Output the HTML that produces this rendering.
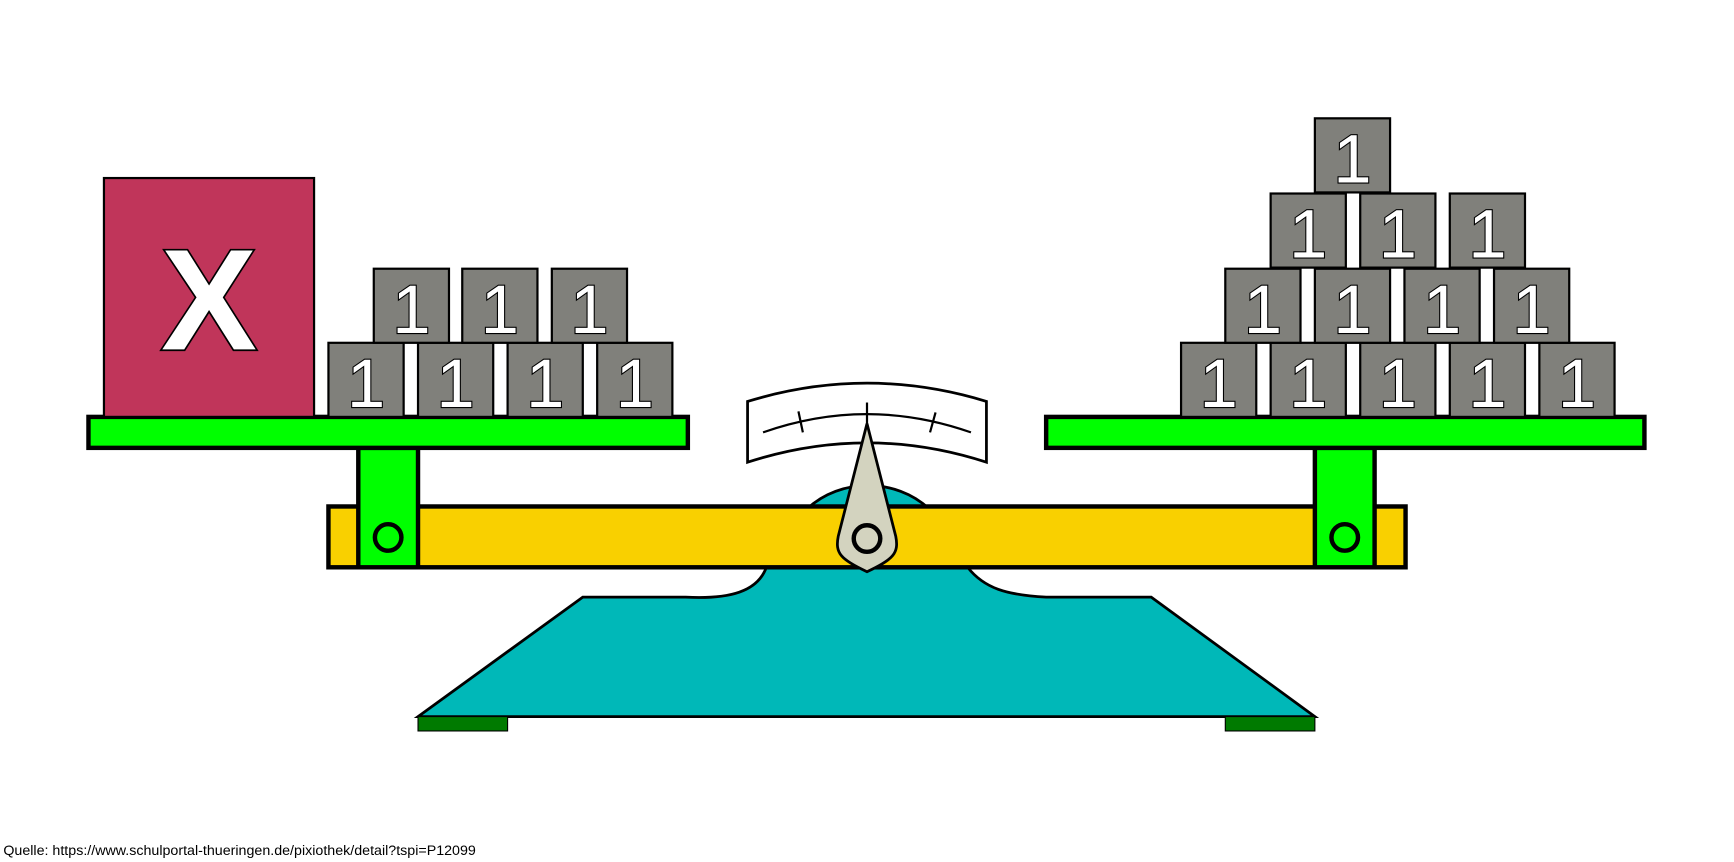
<!DOCTYPE html>
<html><head><style>html,body{margin:0;padding:0;background:#fff;overflow:hidden}svg{display:block}
.n{font-family:"Liberation Sans",Arial,sans-serif;font-size:62px;fill:#fff;stroke:#000;stroke-width:2px;paint-order:stroke}
.x{font-family:"Liberation Sans",Arial,sans-serif;font-weight:bold;font-size:130px;fill:#fff;stroke:#000;stroke-width:3px;paint-order:stroke}
.q{font-family:"Liberation Sans",Arial,sans-serif;font-size:12.9px;fill:#000}</style></head>
<body>
<svg width="1734" height="862" viewBox="0 0 1568 779.5" preserveAspectRatio="none" xmlns="http://www.w3.org/2000/svg">
<defs>
<g id="blk"><rect x="0" y="0" width="68" height="67" fill="#80807b" stroke="#000" stroke-width="2"/>
<text x="34" y="58" text-anchor="middle" class="n" style="font-family:'Liberation Sans',Arial,sans-serif">1</text></g>
</defs>
<path d="M378,648 L527,540 L620,540 C660,542 685,535 693,513 L730,460 C760,432 810,432 840,460 L875,513 C890,532 910,538 946,540 L1041,540 L1189,648 Z" fill="#00b8b8" stroke="#000" stroke-width="2.5"/>
<rect x="378" y="648" width="81" height="13" fill="#007a00" stroke="#000" stroke-width="1"/>
<rect x="1108" y="648" width="81" height="13" fill="#007a00" stroke="#000" stroke-width="1"/>
<path d="M676,363 Q784,330 892,363 L892,418 Q784,383 676,418 Z" fill="#fff" stroke="#000" stroke-width="2.5"/>
<path d="M690,391 Q784,358 878,391" fill="none" stroke="#000" stroke-width="2"/>
<line x1="784" y1="364" x2="784" y2="384" stroke="#000" stroke-width="2"/>
<line x1="722" y1="372" x2="726" y2="391" stroke="#000" stroke-width="2"/>
<line x1="846" y1="373" x2="841" y2="391" stroke="#000" stroke-width="2"/>
<rect x="297" y="458" width="974" height="55" fill="#f9d000" stroke="#000" stroke-width="4"/>
<rect x="324" y="405" width="54" height="108" fill="#00ff00" stroke="#000" stroke-width="4"/>
<rect x="1189" y="405" width="54" height="108" fill="#00ff00" stroke="#000" stroke-width="4"/>
<circle cx="351" cy="486" r="12" fill="none" stroke="#000" stroke-width="4"/>
<circle cx="1216" cy="486" r="12" fill="none" stroke="#000" stroke-width="4"/>
<path d="M784,383 L810,485 C813,500 808,506 784,517 C760,506 755,500 758,485 Z" fill="#d3d3bf" stroke="#000" stroke-width="2.5"/>
<circle cx="784" cy="487" r="12" fill="none" stroke="#000" stroke-width="4"/>
<rect x="80" y="377" width="542" height="28" fill="#00ff00" stroke="#000" stroke-width="4"/>
<rect x="946" y="377" width="541" height="28" fill="#00ff00" stroke="#000" stroke-width="4"/>
<rect x="94" y="161" width="190" height="216" fill="#c0355a" stroke="#000" stroke-width="2"/>
<text x="189" y="316" text-anchor="middle" class="x">X</text>
<use href="#blk" x="297" y="310"/><use href="#blk" x="378" y="310"/><use href="#blk" x="459" y="310"/><use href="#blk" x="540" y="310"/>
<use href="#blk" x="338" y="243"/><use href="#blk" x="418" y="243"/><use href="#blk" x="499" y="243"/>
<use href="#blk" x="1068" y="310"/><use href="#blk" x="1149" y="310"/><use href="#blk" x="1230" y="310"/><use href="#blk" x="1311" y="310"/><use href="#blk" x="1392" y="310"/>
<use href="#blk" x="1108" y="243"/><use href="#blk" x="1189" y="243"/><use href="#blk" x="1270" y="243"/><use href="#blk" x="1351" y="243"/>
<use href="#blk" x="1149" y="175"/><use href="#blk" x="1230" y="175"/><use href="#blk" x="1311" y="175"/>
<use href="#blk" x="1189" y="107"/>
<text x="3" y="773" class="q">Quelle: https://www.schulportal-thueringen.de/pixiothek/detail?tspi=P12099</text>
</svg>
</body></html>
